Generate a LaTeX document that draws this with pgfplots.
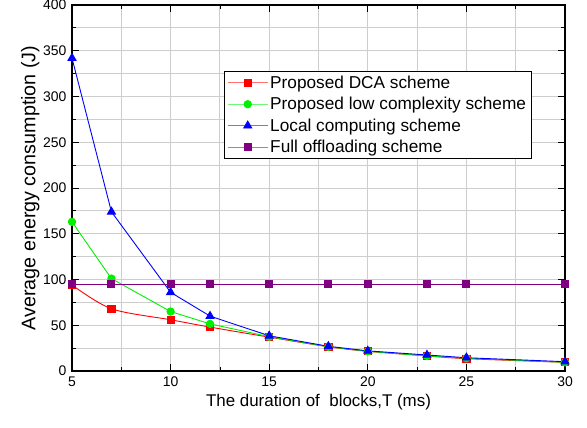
\documentclass[border=0pt]{standalone}
\usepackage{fontspec}
\setmainfont{Liberation Sans}
\usepackage{pgfplots}
\pgfplotsset{compat=1.18}

\definecolor{cRed}{RGB}{255,0,0}
\definecolor{cGreen}{RGB}{0,240,0}
\definecolor{cBlue}{RGB}{0,0,255}
\definecolor{cPurple}{RGB}{128,0,128}
\definecolor{gridgray}{RGB}{205,205,205}

\begin{document}
\begin{tikzpicture}[x=1bp,y=1bp]
\useasboundingbox (-72,-56) rectangle (515,371);
\begin{axis}[
  at={(0,0)}, anchor=south west,
  scale only axis, width=493bp, height=366bp,
  xmin=5, xmax=30, ymin=0, ymax=400,
  xtick={5,10,...,30}, ytick={0,50,...,400},
  minor x tick num=1, minor y tick num=1,
  tick pos=both, xticklabel pos=bottom, yticklabel pos=left,
  tick align=inside,
  major tick length=7bp, minor tick length=4bp,
  every tick/.style={black, line width=0.8bp},
  axis line style={black, line width=1.3bp},
  grid=both,
  major grid style={gridgray, line width=0.9bp},
  minor grid style={gridgray, line width=0.9bp},
  /pgf/number format/assume math mode=true,
  tick label style={font=\fontsize{14}{16}\selectfont},
  xticklabel style={yshift=-2bp},
  yticklabel style={xshift=-2bp},
  xlabel={The duration of\ \ blocks,T (ms)},
  ylabel={Average energy consumption (J)},
  xlabel style={font=\fontsize{17}{20}\selectfont, yshift=-1bp},
  ylabel style={font=\fontsize{19.8}{22}\selectfont, yshift=-3bp},
  legend cell align=left,
  legend style={at={(0.308,0.82)}, anchor=north west,
    draw=black, line width=0.8bp, inner xsep=3bp, inner ysep=2.5bp,
    font=\fontsize{17.3}{20}\selectfont, row sep=3.5bp},
  legend image code/.code={
    \draw[#1, draw opacity=0.55, line width=1bp] (0bp,0bp) -- (40bp,0bp);
    \draw[#1] plot[only marks] coordinates {(20bp,0bp)};
  },
]

% Proposed DCA scheme
\addplot[cRed, line width=0.9bp, smooth, mark=square*, mark size=3.6bp,
  mark options={solid}]
  coordinates {(5,94) (7,68) (10,56) (12,48) (15,37) (18,26.5) (20,21.5) (23,16.5) (25,13.5) (30,9.5)};
\addlegendentry{Proposed DCA scheme}

% Proposed low complexity scheme
\addplot[cGreen, line width=0.9bp, mark=*, mark size=3.7bp]
  coordinates {(5,163) (7,101) (10,65) (12,51.5) (15,37.5) (18,26.5) (20,21.5) (23,16.5) (25,14) (30,9.5)};
\addlegendentry{Proposed low complexity scheme}

% Local computing scheme
\addplot[cBlue, line width=0.9bp, mark=triangle*, mark size=4.6bp]
  coordinates {(5,342) (7,174) (10,86) (12,60) (15,38.5) (18,27) (20,22) (23,17.5) (25,14.5) (30,10.2)};
\addlegendentry{Local computing scheme}

% Full offloading scheme
\addplot[cPurple, line width=0.9bp, mark=square*, mark size=3.5bp]
  coordinates {(5,95) (7,95) (10,95) (12,95) (15,95) (18,95) (20,95) (23,95) (25,95) (30,95)};
\addlegendentry{Full offloading scheme}

\end{axis}
\end{tikzpicture}
\end{document}
